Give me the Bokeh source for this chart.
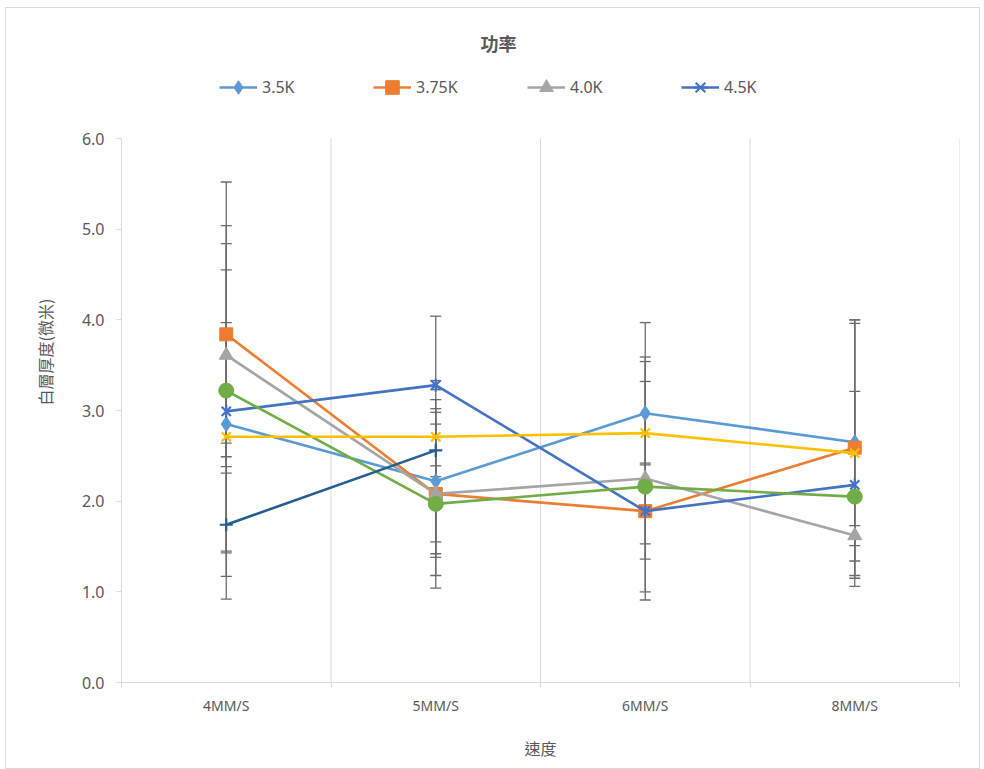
from bokeh.plotting import figure
from bokeh.models import (Range1d, FixedTicker, Legend, LegendItem, Whisker, Label,
                          TeeHead, ColumnDataSource)
from bokeh.embed import file_html
from bokeh.resources import INLINE
import math

# ---- data ----
categories = ["4MM/S", "5MM/S", "6MM/S", "8MM/S"]
y_ticks = [0, 1, 2, 3, 4, 5, 6]
y_max = 6

s35_name = "3.5K"
s35_vals = [2.85, 2.22, 2.97, 2.65]
s35_err = [0.36, 0.80, 0.57, 1.31]

s375_name = "3.75K"
s375_vals = [3.84, 2.08, 1.89, 2.59]
s375_err = [1.20, 0.90, 0.53, 1.41]

s40_name = "4.0K"
s40_vals = [3.61, 2.08, 2.25, 1.62]
s40_err = [1.23, 1.04, 1.34, 0.11]

s45_name = "4.5K"
s45_vals = [2.99, 3.28, 1.89, 2.18]
s45_err = [1.56, 0.05, 0.04, 1.03]

s5_vals = [3.22, 1.97, 2.16, 2.05]
s5_err = [2.30, 0.42, 1.16, 0.03]

s6_vals = [2.71, 2.71, 2.75, 2.53]
s6_err = [1.26, 1.33, 1.22, 1.47]

s7_vals = [1.74, 2.56]
s7_err = [0.57, 0.29]

TXT = "#595959"
GRID = "#d9d9d9"
CJK = "Noto Sans CJK TC"
LAT = "Noto Sans"

# layout (pixels)
W, H = 975, 762
B_LEFT, B_RIGHT, B_TOP, B_BOTTOM = 115, 22, 13, 88
PLOT_H = 544          # pixel height of the 0..6 value band
frame_h = H - B_TOP - B_BOTTOM
y_end = y_max * frame_h / PLOT_H   # extra empty space above holds title + legend

p = figure(width=W, height=H, output_backend="svg", toolbar_location=None,
           x_range=Range1d(0, len(categories)), y_range=Range1d(0, y_end),
           min_border_left=B_LEFT, min_border_right=B_RIGHT,
           min_border_top=B_TOP, min_border_bottom=B_BOTTOM)
p.styles = {"border": "1px solid #d9d9d9", "box-sizing": "border-box",
            "margin-left": "5px", "margin-top": "7px"}
p.outline_line_color = None
p.background_fill_color = "white"
p.border_fill_color = "white"

# axes
xpos = [i + 0.5 for i in range(len(categories))]
bounds = list(range(len(categories) + 1))
p.xaxis.ticker = FixedTicker(ticks=xpos, minor_ticks=bounds)
p.xaxis.major_label_overrides = {x: c for x, c in zip(xpos, categories)}
p.xaxis.major_tick_line_color = None
p.xaxis.major_tick_out = 0
p.xaxis.major_tick_in = 0
p.xaxis.minor_tick_line_color = GRID
p.xaxis.minor_tick_out = 5
p.xaxis.minor_tick_in = 0
p.xaxis.axis_line_color = GRID
p.xaxis.major_label_text_font = LAT
p.xaxis.major_label_text_font_size = "14px"
p.xaxis.major_label_text_color = TXT
p.xaxis.major_label_standoff = 8
p.xaxis.axis_label = "速度"
p.xaxis.axis_label_text_font = CJK
p.xaxis.axis_label_text_font_size = "16px"
p.xaxis.axis_label_text_font_style = "normal"
p.xaxis.axis_label_text_color = TXT
p.xaxis.axis_label_standoff = 18

p.yaxis.ticker = FixedTicker(ticks=y_ticks, minor_ticks=[])
p.yaxis.bounds = (0, y_max)
p.yaxis.major_label_overrides = {t: f"{t:.1f}" for t in y_ticks}
p.yaxis.major_tick_line_color = GRID
p.yaxis.major_tick_out = 5
p.yaxis.major_tick_in = 0
p.yaxis.axis_line_color = GRID
p.yaxis.major_label_text_font = LAT
p.yaxis.major_label_text_font_size = "16px"
p.yaxis.major_label_text_color = TXT
p.yaxis.major_label_standoff = 12
p.yaxis.axis_label = "白層厚度(微米)"
p.yaxis.axis_label_text_font = CJK
p.yaxis.axis_label_text_font_size = "16px"
p.yaxis.axis_label_text_font_style = "normal"
p.yaxis.axis_label_text_color = TXT
p.yaxis.axis_label_standoff = 22

p.xgrid.visible = False
p.ygrid.visible = False
# vertical gridlines at category boundaries, spanning only the value band
p.segment(x0=bounds[1:], y0=[0] * len(bounds[1:]), x1=bounds[1:], y1=[y_max] * len(bounds[1:]),
          line_color=GRID, line_width=1, level="underlay")

series = [
    (s35_name, s35_vals, s35_err, "#5B9BD5", "diamond", 15),
    (s375_name, s375_vals, s375_err, "#ED7D31", "square", 13),
    (s40_name, s40_vals, s40_err, "#A5A5A5", "triangle", 14),
    (s45_name, s45_vals, s45_err, "#4472C4", "x", 13),
    (None, s5_vals, s5_err, "#70AD47", "circle", 15),
    (None, s6_vals, s6_err, "#FFC000", "x", 13),
    (None, s7_vals, s7_err, "#255E91", "cross", 13),
]

EB = "#6b6b6b"
for name, vals, errs, color, marker, size in series:
    xs = xpos[:len(vals)]
    src = ColumnDataSource(dict(x=xs, lo=[v - e for v, e in zip(vals, errs)],
                                hi=[v + e for v, e in zip(vals, errs)]))
    w = Whisker(base="x", lower="lo", upper="hi", source=src, dimension="height",
                line_color=EB, line_width=1.3,
                upper_head=TeeHead(size=11, line_color=EB, line_width=1.3),
                lower_head=TeeHead(size=11, line_color=EB, line_width=1.3))
    p.add_layout(w)

legend_items = []
for name, vals, errs, color, marker, size in series:
    xs = xpos[:len(vals)]
    src = ColumnDataSource(dict(x=xs, y=vals))
    rl = p.line("x", "y", source=src, line_color=color, line_width=2.6)
    rends = [rl]
    if marker in ("x", "cross"):
        rm = p.scatter("x", "y", source=src, marker=marker, size=size,
                       line_color=color, line_width=2.2)
        rends.append(rm)
        if name == s45_name:
            rv = p.scatter("x", "y", source=src, marker="dash", size=size, angle=math.pi / 2,
                           line_color=color, line_width=2.2)
            rends.append(rv)
    else:
        rm = p.scatter("x", "y", source=src, marker=marker, size=size,
                       fill_color=color, line_color=color, line_width=1)
        rends.append(rm)
    if name is not None:
        legend_items.append(LegendItem(label=name, renderers=rends))

lg = Legend(items=legend_items, location=(98, 578), orientation="horizontal",
            padding=0, margin=0, spacing=56,
            glyph_width=38, glyph_height=34, label_height=34, label_width=55, label_standoff=5,
            border_line_alpha=0, background_fill_alpha=0,
            label_text_font=LAT, label_text_font_size="16px", label_text_color=TXT)
p.add_layout(lg)

title = Label(x=377, y=640, x_units="screen", y_units="screen", text="功率",
              text_font=CJK, text_font_size="18px", text_color=TXT,
              text_align="center", text_baseline="middle", text_font_style="bold")
p.add_layout(title)

open("out.html", "w").write(file_html(p, INLINE))
